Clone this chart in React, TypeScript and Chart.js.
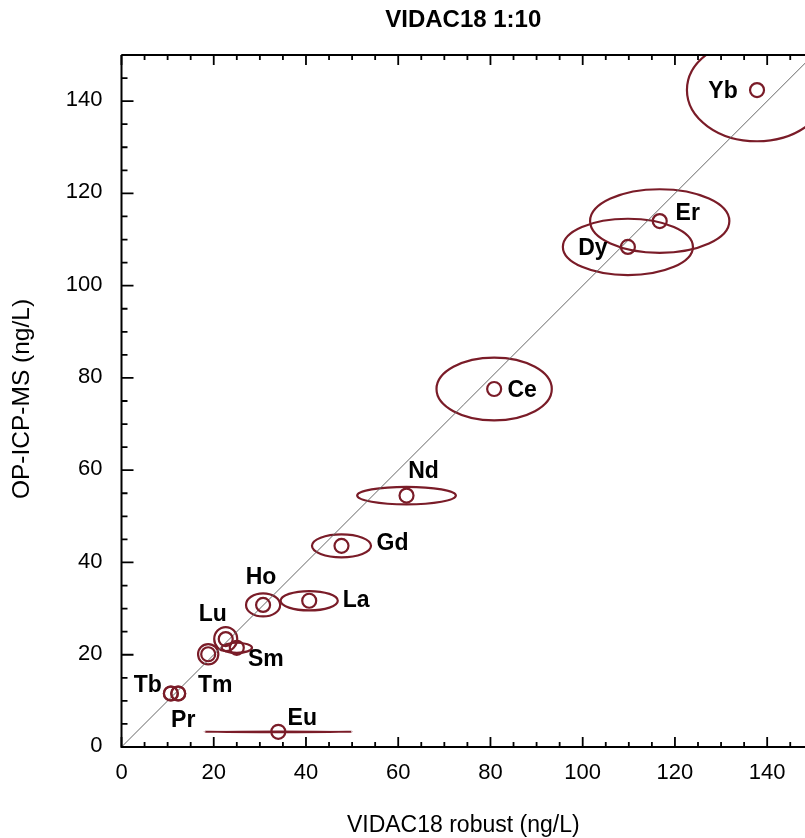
import React, { useEffect, useRef } from 'react';
import { Chart, registerables } from 'chart.js';

Chart.register(...registerables);

// ---- data ----
const elements = ['Yb', 'Er', 'Dy', 'Ce', 'Nd', 'Gd', 'La', 'Ho', 'Lu', 'Sm', 'Tm', 'Tb', 'Pr', 'Eu'];
const robust = [137.8, 116.7, 109.8, 80.8, 61.8, 47.7, 40.7, 30.7, 22.6, 25.0, 18.8, 10.7, 12.3, 34.0];
const opIcp = [142.4, 114.0, 108.4, 77.6, 54.5, 43.6, 31.7, 30.8, 23.4, 21.5, 20.1, 11.6, 11.6, 3.3];
const robustUnc = [15.2, 15.1, 14.1, 12.5, 10.7, 6.4, 6.2, 3.7, 2.5, 3.3, 2.2, 1.5, 1.5, 16.0];
const opIcpUnc = [11.1, 6.9, 6.1, 6.8, 1.9, 2.5, 2.1, 2.5, 2.6, 1.1, 2.2, 1.5, 1.5, 0.05];
const xTickValues = [0, 20, 40, 60, 80, 100, 120, 140];
const yTickValues = [0, 20, 40, 60, 80, 100, 120, 140];

// ---- layout / style (not data) ----
const labelOffsets: [number, number][] = [
  [-34, 2], [28, -7], [-35, 2], [28, 2], [17, -24], [51, -2], [47, 0],
  [-2, -27], [-13, -24], [29, 12], [7, 31], [-23, -8], [5, 27], [24, -13],
];
const RED = '#7a1c28';
const FONT = "'Liberation Sans', Arial, Helvetica, sans-serif";
const X_MAX = 148.2;
const Y_MAX = 150;
const MINOR = 5;

const decor = {
  id: 'decor',
  beforeDatasetsDraw(chart: any) {
    const { ctx, chartArea: a, scales } = chart;
    const x = scales.x, y = scales.y;
    ctx.save();
    ctx.beginPath();
    ctx.rect(a.left, a.top, a.right - a.left, a.bottom - a.top);
    ctx.clip();
    ctx.strokeStyle = RED;
    ctx.lineWidth = 2.2;
    for (let i = 0; i < elements.length; i++) {
      const cx = x.getPixelForValue(robust[i]);
      const cy = y.getPixelForValue(opIcp[i]);
      const rx = Math.abs(x.getPixelForValue(robust[i] + robustUnc[i]) - cx);
      const ry = Math.abs(y.getPixelForValue(opIcp[i] + opIcpUnc[i]) - cy);
      ctx.beginPath();
      ctx.ellipse(cx, cy, rx, Math.max(ry, 0.3), 0, 0, Math.PI * 2);
      ctx.stroke();
    }
    ctx.restore();
  },
  afterDraw(chart: any) {
    const { ctx, chartArea: a, scales } = chart;
    const x = scales.x, y = scales.y;
    ctx.save();
    // frame lines
    ctx.strokeStyle = '#000';
    ctx.lineWidth = 2;
    ctx.beginPath();
    ctx.moveTo(a.left, a.top);
    ctx.lineTo(a.right, a.top);
    ctx.moveTo(a.left, a.top);
    ctx.lineTo(a.left, a.bottom);
    ctx.lineTo(a.right, a.bottom);
    ctx.stroke();
    // ticks
    ctx.lineWidth = 1.8;
    ctx.beginPath();
    for (let v = 0; v <= X_MAX + 1e-6; v += MINOR) {
      const px = x.getPixelForValue(v);
      const major = v % 20 === 0;
      const len = major ? 10 : 5;
      ctx.moveTo(px, a.bottom);
      ctx.lineTo(px, a.bottom - len);
      ctx.moveTo(px, a.top);
      ctx.lineTo(px, a.top + len);
    }
    for (let v = 0; v <= Y_MAX + 1e-6; v += MINOR) {
      const py = y.getPixelForValue(v);
      const major = v % 20 === 0;
      const len = major ? 12 : 6;
      ctx.moveTo(a.left, py);
      ctx.lineTo(a.left + len, py);
    }
    ctx.stroke();
    // tick labels
    ctx.fillStyle = '#000';
    ctx.font = `22px ${FONT}`;
    ctx.textBaseline = 'middle';
    ctx.textAlign = 'center';
    xTickValues.forEach((v) => {
      ctx.fillText(String(v), x.getPixelForValue(v), a.bottom + 26);
    });
    ctx.textAlign = 'right';
    yTickValues.forEach((v) => {
      ctx.fillText(String(v), a.left - 19, y.getPixelForValue(v) - 1);
    });
    // axis titles
    ctx.font = `23px ${FONT}`;
    ctx.textAlign = 'center';
    ctx.fillText('VIDAC18 robust (ng/L)', (a.left + a.right) / 2, 826);
    ctx.save();
    ctx.translate(22, (a.top + a.bottom) / 2 - 2);
    ctx.rotate(-Math.PI / 2);
    ctx.font = `24.5px ${FONT}`;
    ctx.fillText('OP-ICP-MS (ng/L)', 0, 0);
    ctx.restore();
    // title
    ctx.font = `bold 24px ${FONT}`;
    ctx.fillText('VIDAC18 1:10', (a.left + a.right) / 2, 20);
    // element labels
    ctx.font = `bold 23px ${FONT}`;
    for (let i = 0; i < elements.length; i++) {
      const cx = x.getPixelForValue(robust[i]);
      const cy = y.getPixelForValue(opIcp[i]);
      ctx.fillText(elements[i], cx + labelOffsets[i][0], cy + labelOffsets[i][1]);
    }
    ctx.restore();
  },
};

export default function App() {
  const ref = useRef<HTMLCanvasElement>(null);
  useEffect(() => {
    document.body.style.margin = '0';
    const canvas = ref.current!;
    const chart = new Chart(canvas, {
      type: 'scatter',
      data: {
        datasets: [
          {
            label: 'points',
            data: robust.map((v, i) => ({ x: v, y: opIcp[i] })),
            pointRadius: 7,
            pointHoverRadius: 7,
            borderWidth: 2.2,
            pointBorderWidth: 2.2,
            borderColor: RED,
            backgroundColor: 'rgba(0,0,0,0)',
            showLine: false,
          },
          {
            label: 'identity',
            data: [{ x: 0, y: 0 }, { x: Y_MAX, y: Y_MAX }],
            showLine: true,
            pointRadius: 0,
            borderColor: '#666666',
            borderWidth: 1,
            backgroundColor: 'rgba(0,0,0,0)',
          },
        ],
      },
      options: {
        responsive: false,
        animation: false,
        layout: { autoPadding: false, padding: { top: 55, left: 0, right: 0, bottom: 0 } },
        plugins: {
          legend: { display: false },
          tooltip: { enabled: false },
          title: { display: false },
        },
        scales: {
          x: {
            type: 'linear',
            min: 0,
            max: X_MAX,
            grid: { display: false, drawTicks: false },
            border: { display: false },
            ticks: { display: false },
            afterFit: (s: any) => { s.height = 91; },
          },
          y: {
            type: 'linear',
            min: 0,
            max: Y_MAX,
            grid: { display: false, drawTicks: false },
            border: { display: false },
            ticks: { display: false },
            afterFit: (s: any) => { s.width = 121.5; },
          },
        },
      },
      plugins: [decor],
    });
    return () => chart.destroy();
  }, []);
  return <canvas ref={ref} width={805} height={838} style={{ display: 'block' }} />;
}
